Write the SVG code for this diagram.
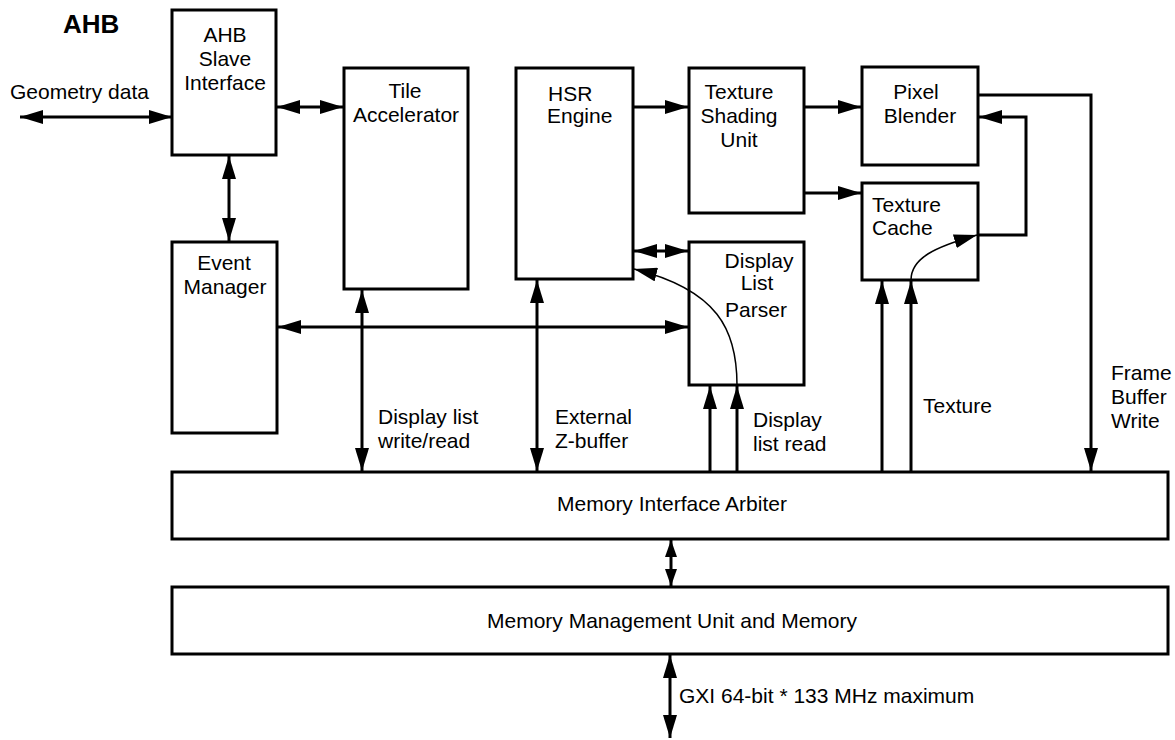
<svg xmlns="http://www.w3.org/2000/svg" width="1175" height="740" viewBox="0 0 1175 740">
<style>
.box{fill:#fff;stroke:#000;stroke-width:3}
.t{font-family:"Liberation Sans",Arial,Helvetica,sans-serif;font-size:21px;fill:#000}
.c{text-anchor:middle}
.ln{fill:none;stroke:#000;stroke-width:3}
.thin{fill:none;stroke:#000;stroke-width:1.5}
</style>
<defs>
<marker id="ah" viewBox="0 0 23 14" refX="23" refY="7" markerWidth="23" markerHeight="14" markerUnits="userSpaceOnUse" orient="auto-start-reverse">
<path d="M0,0 L23,7 L0,14 Z" fill="#000"/>
</marker>
<marker id="ahs" viewBox="0 0 17 12" refX="17" refY="6" markerWidth="17" markerHeight="12" markerUnits="userSpaceOnUse" orient="auto-start-reverse">
<path d="M0,0 L17,6 L0,12 Z" fill="#000"/>
</marker>
</defs>
<rect width="1175" height="740" fill="#fff"/>
<text class="t" x="63" y="33" style="font-weight:bold;font-size:26px">AHB</text>
<g id="ahb-slave">
<rect class="box" x="172" y="10" width="104" height="145"/>
<text class="t c" x="225" y="42">AHB</text>
<text class="t c" x="225" y="66">Slave</text>
<text class="t c" x="225" y="90">Interface</text>
</g>
<g id="tile-accelerator">
<rect class="box" x="344" y="68" width="124" height="221"/>
<text class="t c" x="405" y="98">Tile</text>
<text class="t c" x="406" y="122">Accelerator</text>
</g>
<g id="hsr-engine">
<rect class="box" x="516" y="68" width="117" height="211"/>
<text class="t" x="548" y="101">HSR</text>
<text class="t" x="547" y="123">Engine</text>
</g>
<g id="texture-shading-unit">
<rect class="box" x="689" y="68" width="115" height="145"/>
<text class="t c" x="739" y="99">Texture</text>
<text class="t c" x="739" y="123">Shading</text>
<text class="t c" x="739" y="147">Unit</text>
</g>
<g id="pixel-blender">
<rect class="box" x="862" y="67" width="116" height="98"/>
<text class="t c" x="916" y="99">Pixel</text>
<text class="t c" x="920" y="123">Blender</text>
</g>
<g id="texture-cache">
<rect class="box" x="862" y="183" width="116" height="97"/>
<text class="t" x="872" y="212">Texture</text>
<text class="t" x="872" y="235">Cache</text>
</g>
<g id="event-manager">
<rect class="box" x="172" y="242" width="105" height="191"/>
<text class="t c" x="224" y="270">Event</text>
<text class="t c" x="225" y="294">Manager</text>
</g>
<g id="display-list-parser">
<rect class="box" x="689" y="242" width="115" height="143"/>
<text class="t c" x="759" y="268">Display</text>
<text class="t c" x="757" y="290">List</text>
<text class="t c" x="756" y="317">Parser</text>
</g>
<g id="memory-interface-arbiter">
<rect class="box" x="172" y="472" width="996" height="67"/>
<text class="t c" x="672" y="511">Memory Interface Arbiter</text>
</g>
<g id="mmu">
<rect class="box" x="172" y="587" width="996" height="67"/>
<text class="t c" x="672" y="628">Memory Management Unit and Memory</text>
</g>
<g id="connectors">
<line class="ln" x1="20" y1="117" x2="172" y2="117" marker-start="url(#ah)" marker-end="url(#ah)"/>
<line class="ln" x1="277" y1="107" x2="343" y2="107" marker-start="url(#ah)" marker-end="url(#ah)"/>
<line class="ln" x1="229" y1="156" x2="229" y2="241" marker-start="url(#ah)" marker-end="url(#ah)"/>
<line class="ln" x1="278" y1="327" x2="688" y2="327" marker-start="url(#ah)" marker-end="url(#ah)"/>
<line class="ln" x1="362" y1="290" x2="362" y2="471" marker-start="url(#ah)" marker-end="url(#ah)"/>
<line class="ln" x1="537" y1="280" x2="537" y2="471" marker-start="url(#ah)" marker-end="url(#ah)"/>
<line class="ln" x1="634" y1="251" x2="688" y2="251" marker-start="url(#ah)" marker-end="url(#ah)"/>
<line class="ln" x1="634" y1="107" x2="688" y2="107" marker-end="url(#ah)"/>
<line class="ln" x1="805" y1="107" x2="861" y2="107" marker-end="url(#ah)"/>
<line class="ln" x1="805" y1="193" x2="861" y2="193" marker-end="url(#ah)"/>
<line class="ln" x1="710" y1="471" x2="710" y2="386" marker-end="url(#ah)"/>
<line class="ln" x1="737" y1="471" x2="737" y2="386" marker-end="url(#ah)"/>
<line class="ln" x1="882" y1="471" x2="882" y2="281" marker-end="url(#ah)"/>
<line class="ln" x1="911" y1="471" x2="911" y2="281" marker-end="url(#ah)"/>
<path class="thin" d="M737,385 C737,330 718,290 634,269" marker-end="url(#ah)"/>
<path class="thin" d="M911,280 C911,258 935,247 977,235" marker-end="url(#ah)"/>
<polyline class="ln" points="978,235 1026,235 1026,117 979,117" marker-end="url(#ah)"/>
<polyline class="ln" points="978,95 1091,95 1091,471" marker-end="url(#ah)"/>
<line class="ln" x1="671" y1="540" x2="671" y2="586" marker-start="url(#ahs)" marker-end="url(#ahs)"/>
<line class="ln" x1="670" y1="655" x2="670" y2="738" marker-start="url(#ah)" marker-end="url(#ah)"/>
</g>
<text class="t" x="10" y="99">Geometry data</text>
<text class="t" x="378" y="424">Display list</text>
<text class="t" x="378" y="448">write/read</text>
<text class="t" x="555" y="424">External</text>
<text class="t" x="555" y="448">Z-buffer</text>
<text class="t" x="753" y="427">Display</text>
<text class="t" x="753" y="451">list read</text>
<text class="t" x="923" y="413">Texture</text>
<text class="t" x="1111" y="380">Frame</text>
<text class="t" x="1111" y="404">Buffer</text>
<text class="t" x="1111" y="428">Write</text>
<text class="t" x="679" y="703">GXI 64-bit * 133 MHz maximum</text>
</svg>
